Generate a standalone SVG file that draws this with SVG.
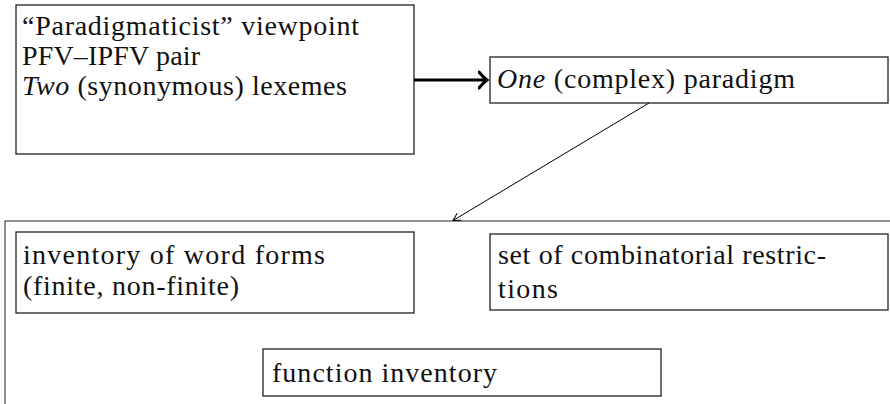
<svg xmlns="http://www.w3.org/2000/svg" width="890" height="404" viewBox="0 0 890 404">
<defs>
<style>
.box{fill:#fff;stroke:#222;stroke-width:1.3}
.t{font-size:28px;fill:#111}
.i{font-style:italic}
.thick{stroke:#000;stroke-width:3;fill:none}
.thin{stroke:#000;stroke-width:1;fill:none}
</style>
<marker id="bigto" markerWidth="12" markerHeight="20" refX="9" refY="10" orient="auto" markerUnits="userSpaceOnUse">
<path d="M1,2 Q5,7 9,10 Q5,13 1,18" fill="none" stroke="#000" stroke-width="3" stroke-linecap="round"/>
</marker>
<marker id="smallto" markerWidth="10" markerHeight="10" refX="8" refY="5" orient="auto" markerUnits="userSpaceOnUse">
<path d="M1,1 Q5,3.5 8,5 Q5,6.5 1,9" fill="none" stroke="#000" stroke-width="1" stroke-linecap="round"/>
</marker>
</defs>
<g id="paradigm-outer">
<rect class="box" x="5" y="221" width="900" height="200" style="stroke-width:1"/>
</g>
<g font-family="'Liberation Serif', 'DejaVu Serif', serif">
<g id="viewpoint">
<rect class="box" x="16" y="5" width="398" height="149"/>
<text class="t" x="22" y="35" textLength="337">“Paradigmaticist” viewpoint</text>
<text class="t" x="22" y="65" textLength="178">PFV–IPFV pair</text>
<text class="t" x="22" y="95" textLength="325"><tspan class="i">Two</tspan> (synonymous) lexemes</text>
</g>
<g id="one-paradigm">
<rect class="box" x="490" y="57" width="398" height="46"/>
<text class="t" x="497" y="88" textLength="298"><tspan class="i">One</tspan> (complex) paradigm</text>
</g>
<g id="word-forms">
<rect class="box" x="16" y="232" width="398" height="81"/>
<text class="t" x="23" y="264" textLength="302">inventory of word forms</text>
<text class="t" x="23" y="295" textLength="216">(finite, non-finite)</text>
</g>
<g id="restrictions">
<rect class="box" x="490" y="234" width="398" height="76"/>
<text class="t" x="498" y="264" textLength="328">set of combinatorial restric-</text>
<text class="t" x="498" y="298" textLength="60">tions</text>
</g>
<g id="function-inventory">
<rect class="box" x="263" y="349" width="398" height="47"/>
<text class="t" x="272" y="382" textLength="225">function inventory</text>
</g>
</g>
<g id="connectors">
<line class="thick" x1="414" y1="80" x2="487" y2="80" marker-end="url(#bigto)"/>
<line class="thin" x1="649" y1="103" x2="453" y2="220.5" marker-end="url(#smallto)"/>
</g>
</svg>
